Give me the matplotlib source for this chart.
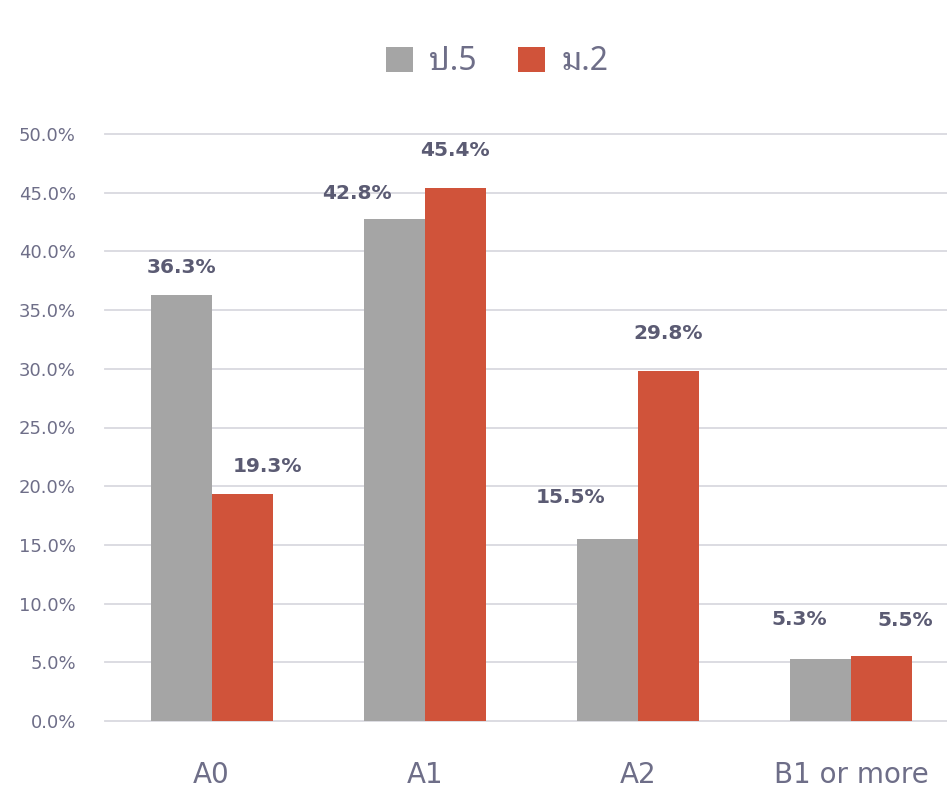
import matplotlib
matplotlib.use("Agg")
import matplotlib.pyplot as plt
import numpy as np

plt.rcParams["font.family"] = ["DejaVu Sans", "Noto Sans Thai Looped"]

categories = ["A0", "A1", "A2", "B1 or more"]
series_names = ["ป.5", "ม.2"]
p5 = [36.3, 42.8, 15.5, 5.3]
m2 = [19.3, 45.4, 29.8, 5.5]
yticks = [0, 5, 10, 15, 20, 25, 30, 35, 40, 45, 50]

GRAY = "#a5a5a5"
RED = "#d0533a"
TXT = "#5b5b73"
TICK = "#6e6e88"

# hand-placed label nudges (pixels), as in the original layout
p5_off = [(0, 27), (-37, 25), (-37, 42), (-21, 39)]
m2_off = [(25, 28), (0, 38), (0, 38), (24, 36)]

fig = plt.figure(figsize=(9.47, 7.91), dpi=100)
ax = fig.add_axes([105 / 947, 70 / 791, 1 - 105 / 947, 587 / 791])

x = np.arange(len(categories))
w = 0.286
b1 = ax.bar(x - w / 2, p5, w, color=GRAY, label=series_names[0], zorder=3)
b2 = ax.bar(x + w / 2, m2, w, color=RED, label=series_names[1], zorder=3)

for bars, vals, offs in [(b1, p5, p5_off), (b2, m2, m2_off)]:
    for bar, v, (dx, dy) in zip(bars, vals, offs):
        ax.annotate(f"{v:.1f}%", (bar.get_x() + bar.get_width() / 2, v),
                    xytext=(dx * 0.72, dy * 0.72), textcoords="offset points",
                    ha="center", va="center", fontsize=14.5, fontweight="bold",
                    color=TXT)

ax.set_xlim(-0.5, 3.45)
ax.set_ylim(0, 50)
ax.set_yticks(yticks)
ax.set_yticklabels([f"{t:.1f}%" for t in yticks], fontsize=13, color=TICK)
ax.set_xticks(x)
ax.set_xticklabels(categories, fontsize=20, color=TICK)
ax.tick_params(axis="y", length=0, pad=21)
ax.tick_params(axis="x", length=0, pad=29)
ax.grid(axis="y", color="#d9d9df", linewidth=1.3, zorder=0)
for gl in ax.get_ygridlines():
    gl.set_clip_on(False)
for s in ax.spines.values():
    s.set_visible(False)

leg = fig.legend(loc="center", bbox_to_anchor=(497 / 947, 1 - 62 / 791), ncol=2,
                 frameon=False, fontsize=23, handlelength=0.85, handleheight=0.85,
                 handletextpad=0.5, columnspacing=1.3)
for t in leg.get_texts():
    t.set_color(TICK)
    t.set_family(["Noto Sans Thai Looped", "DejaVu Sans"])

fig.savefig("out.png", dpi=100)
